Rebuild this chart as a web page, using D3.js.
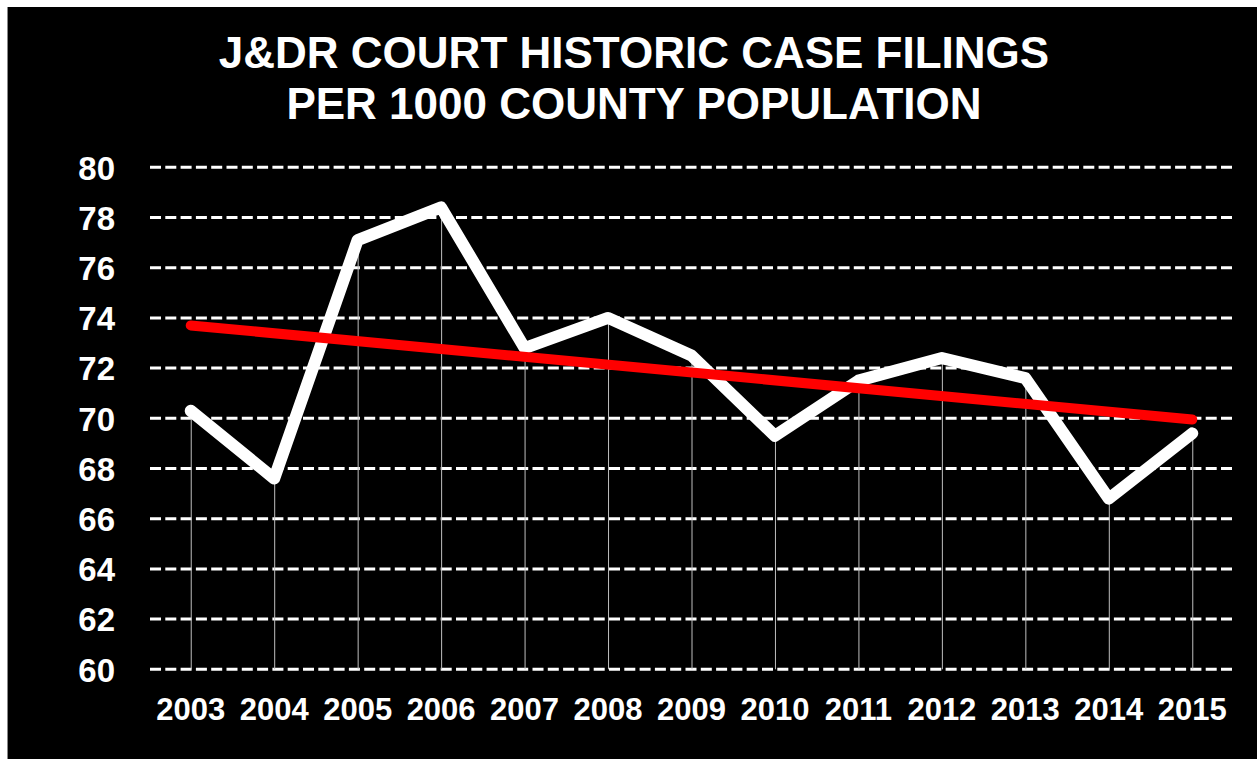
<!DOCTYPE html>
<html>
<head>
  <title>J&DR court case filings</title>
  <script src="https://cdn.jsdelivr.net/npm/d3@7"></script>
  <style>
    body { margin: 0; background: #fff; }
    svg text {
      font-family: 'Liberation Sans', Arial, sans-serif;
      font-weight: bold;
      fill: #fff;
    }
  </style>
</head>
<body>
  <svg id="chart" width="1257" height="759"></svg>

  <script>
    // values
    var years = ['2003', '2004', '2005', '2006', '2007', '2008', '2009',
      '2010', '2011', '2012', '2013', '2014', '2015'];
    var filings = [70.3, 67.6, 77.1, 78.4, 72.8, 74.0, 72.5,
      69.3, 71.5, 72.4, 71.6, 66.8, 69.4];
    var trendEnds = [73.7, 69.95]; // linear trend at 2003 and 2015
    var yTicks = [60, 62, 64, 66, 68, 70, 72, 74, 76, 78, 80];
    var titleLines = ['J&DR COURT HISTORIC CASE FILINGS', 'PER 1000 COUNTY POPULATION'];

    var svg = d3.select('#chart');

    // black panel with thin grey left edge
    svg.append('rect')
      .attr('x', 7).attr('y', 7)
      .attr('width', 1250).attr('height', 752)
      .attr('fill', '#000');
    svg.append('line')
      .attr('x1', 7.5).attr('x2', 7.5)
      .attr('y1', 7).attr('y2', 759)
      .attr('stroke', '#888').attr('stroke-width', 1);

    var x = d3.scaleBand()
      .domain(years)
      .range([149, 1234]);

    var y = d3.scaleLinear()
      .domain([60, 80])
      .range([669.3, 167.3]);

    var cx = d => x(d) + x.bandwidth() / 2;

    // title
    svg.append('g')
      .selectAll('text')
      .data(titleLines)
      .join('text')
      .attr('x', 634)
      .attr('y', (d, i) => 68 + i * 51)
      .attr('text-anchor', 'middle')
      .style('font-size', '44px')
      .text(d => d);

    // dashed gridlines
    svg.append('g')
      .selectAll('line')
      .data(yTicks)
      .join('line')
      .attr('x1', 150).attr('x2', 1233)
      .attr('y1', d => y(d)).attr('y2', d => y(d))
      .attr('stroke', '#fff')
      .attr('stroke-width', 3)
      .attr('stroke-dasharray', '11,4.3');

    // y axis labels
    var yAxis = svg.append('g')
      .attr('transform', 'translate(115,0)')
      .call(d3.axisLeft(y).tickValues(yTicks).tickSize(0).tickPadding(0));
    yAxis.select('.domain').remove();
    yAxis.selectAll('text')
      .style('font-size', '33px')
      .attr('dy', '0.36em');

    // x axis labels
    var xAxis = svg.append('g')
      .attr('transform', 'translate(0,669)')
      .call(d3.axisBottom(x).tickSize(0).tickPadding(0));
    xAxis.select('.domain').remove();
    xAxis.selectAll('text')
      .style('font-size', '31px')
      .attr('dy', null)
      .attr('y', 51);

    // grey drop lines from each point
    svg.append('g')
      .selectAll('line')
      .data(years)
      .join('line')
      .attr('x1', d => cx(d) + 0.5).attr('x2', d => cx(d) + 0.5)
      .attr('y1', (d, i) => y(filings[i]))
      .attr('y2', y(60))
      .attr('stroke', '#bfbfbf')
      .attr('stroke-width', 1);

    // data line
    var line = d3.line()
      .x((d, i) => cx(years[i]))
      .y(d => y(d));

    svg.append('path')
      .datum(filings)
      .attr('fill', 'none')
      .attr('stroke', '#fff')
      .attr('stroke-width', 12)
      .attr('stroke-linejoin', 'round')
      .attr('stroke-linecap', 'round')
      .attr('d', line);

    // trend line
    svg.append('line')
      .attr('x1', cx(years[0])).attr('x2', cx(years[years.length - 1]))
      .attr('y1', y(trendEnds[0])).attr('y2', y(trendEnds[1]))
      .attr('stroke', '#ff0000')
      .attr('stroke-width', 10)
      .attr('stroke-linecap', 'round');
  </script>
</body>
</html>
